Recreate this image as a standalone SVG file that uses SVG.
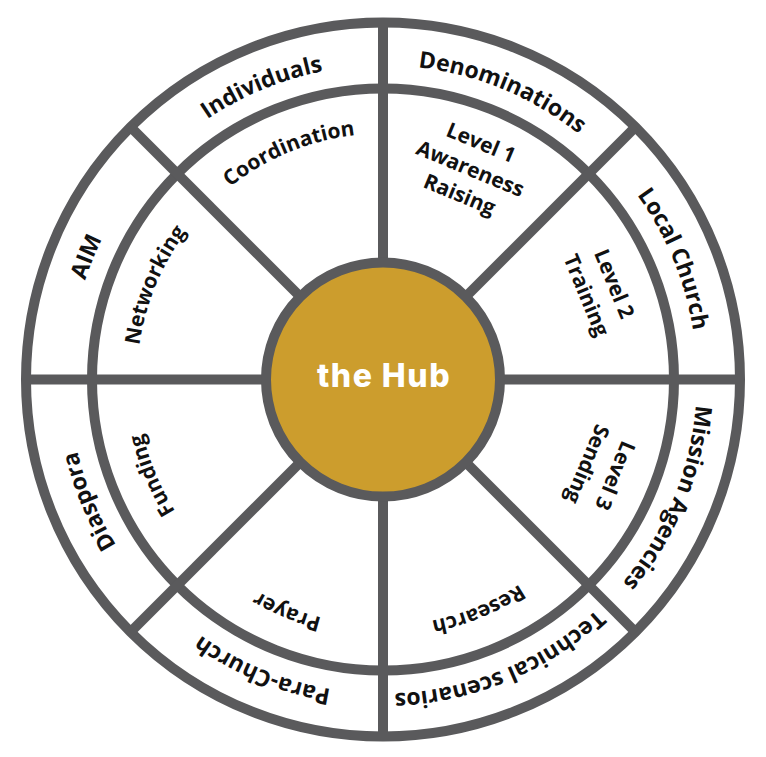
<svg xmlns="http://www.w3.org/2000/svg" width="766" height="757" viewBox="0 0 766 757">
<style>
.ring{fill:none;stroke:#5a5a5c;stroke-width:10}
.spoke{stroke:#5a5a5c;stroke-width:10}
.lbl{font-family:"Open Sans","Liberation Sans",sans-serif;font-weight:700;fill:#111111;text-anchor:middle}
.out{font-size:23px}
.in{font-size:21px}
.hub{fill:#cc9d2d;stroke:#5a5a5c;stroke-width:10}
.hubt{font-family:Inter,"Open Sans",sans-serif;font-weight:800;font-size:32px;letter-spacing:1.5px;fill:#ffffff;text-anchor:middle}
</style>
<defs>
<path id="a314" d="M -295.06,-107.39 A 314 314 0 0 1 295.06,-107.39"/>
<path id="a246" d="M -231.16,-84.14 A 246 246 0 0 1 231.16,-84.14"/>
</defs>
<rect width="766" height="757" fill="#ffffff"/>
<g id="rings">
<circle class="ring" cx="383" cy="379.5" r="357"/>
<circle class="ring" cx="383" cy="379.5" r="291"/>
</g>
<g id="connectors">
<line class="spoke" x1="26" y1="379.5" x2="740" y2="379.5"/>
<line class="spoke" x1="383" y1="22.5" x2="383" y2="736.5"/>
<line class="spoke" x1="130.56" y1="127.06" x2="635.44" y2="631.94"/>
<line class="spoke" x1="635.44" y1="127.06" x2="130.56" y2="631.94"/>
</g>
<g id="hub">
<circle class="hub" cx="383" cy="379.5" r="117"/>
<text class="hubt" x="384" y="386.5">the Hub</text>
</g>
<g id="individuals" transform="translate(383 379.5) rotate(-22.5)"><text class="lbl out"><textPath href="#a314" startOffset="50%">Individuals</textPath></text></g>
<g id="denominations" transform="translate(383 379.5) rotate(22.5)"><text class="lbl out"><textPath href="#a314" startOffset="50%">Denominations</textPath></text></g>
<g id="local-church" transform="translate(383 379.5) rotate(67.5)"><text class="lbl out"><textPath href="#a314" startOffset="50%">Local Church</textPath></text></g>
<g id="mission-agencies" transform="translate(383 379.5) rotate(112.5)"><text class="lbl out"><textPath href="#a314" startOffset="50%">Mission Agencies</textPath></text></g>
<g id="technical-scenarios" transform="translate(383 379.5) rotate(157.5)"><text class="lbl out"><textPath href="#a314" startOffset="50%">Technical scenarios</textPath></text></g>
<g id="para-church" transform="translate(383 379.5) rotate(202.5)"><text class="lbl out"><textPath href="#a314" startOffset="50%">Para-Church</textPath></text></g>
<g id="diaspora" transform="translate(383 379.5) rotate(247.5)"><text class="lbl out"><textPath href="#a314" startOffset="50%">Diaspora</textPath></text></g>
<g id="aim" transform="translate(383 379.5) rotate(-67.5)"><text class="lbl out"><textPath href="#a314" startOffset="50%">AIM</textPath></text></g>
<g id="coordination" transform="translate(383 379.5) rotate(-22.5)"><text class="lbl in"><textPath href="#a246" startOffset="50%">Coordination</textPath></text></g>
<g id="level1" transform="translate(383 379.5) rotate(22.5)"><text class="lbl in"><tspan x="0" y="-249">Level 1</tspan><tspan x="0" y="-221">Awareness</tspan><tspan x="0" y="-193">Raising</tspan></text></g>
<g id="level2" transform="translate(383 379.5) rotate(67.5)"><text class="lbl in"><tspan x="0" y="-243">Level 2</tspan><tspan x="0" y="-213">Training</tspan></text></g>
<g id="level3" transform="translate(383 379.5) rotate(112.5)"><text class="lbl in"><tspan x="0" y="-244">Level 3</tspan><tspan x="0" y="-214">Sending</tspan></text></g>
<g id="research" transform="translate(383 379.5) rotate(157.5)"><text class="lbl in"><textPath href="#a246" startOffset="50%">Research</textPath></text></g>
<g id="prayer" transform="translate(383 379.5) rotate(202.5)"><text class="lbl in"><textPath href="#a246" startOffset="50%">Prayer</textPath></text></g>
<g id="funding" transform="translate(383 379.5) rotate(247.5)"><text class="lbl in"><textPath href="#a246" startOffset="50%">Funding</textPath></text></g>
<g id="networking" transform="translate(383 379.5) rotate(-67.5)"><text class="lbl in"><textPath href="#a246" startOffset="50%">Networking</textPath></text></g>
</svg>
